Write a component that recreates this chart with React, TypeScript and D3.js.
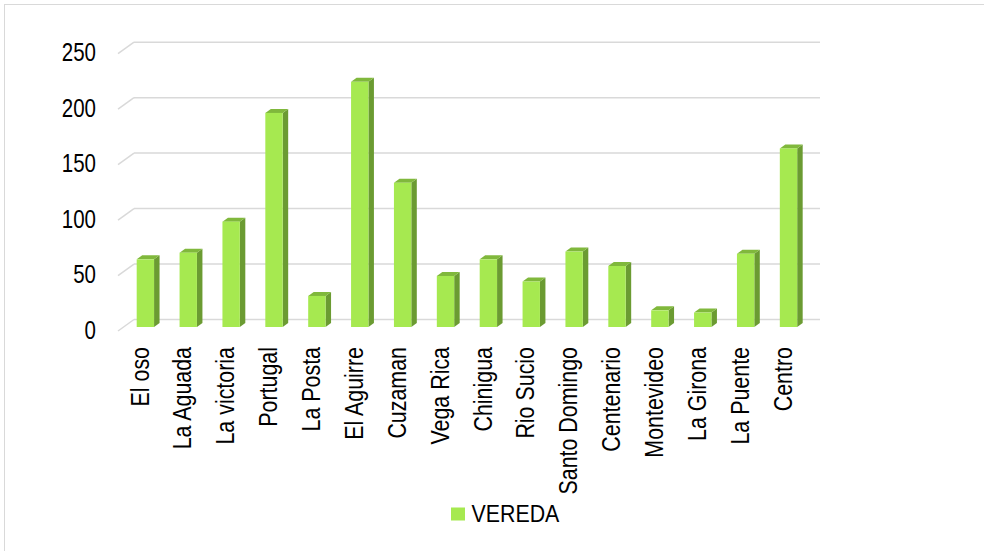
import React from "react";
import * as d3 from "d3";

const categories = [
  "El oso", "La Aguada", "La victoria", "Portugal", "La Posta", "El Aguirre",
  "Cuzaman", "Vega Rica", "Chinigua", "Rio Sucio", "Santo Domingo",
  "Centenario", "Montevideo", "La Girona", "La Puente", "Centro",
];
const values = [61, 67, 95, 193, 28, 221, 130, 46, 61, 41, 68, 55, 15, 13, 66, 161];
const yTicks = [0, 50, 100, 150, 200, 250];
const seriesName = "VEREDA";

const W = 984;
const H = 551;
const FONT = "'Liberation Sans', Arial, sans-serif";
const SX = 0.82;

export default function App() {
  const x = d3.scaleBand<string>().domain(categories).range([118, 804]).paddingInner(0);
  const y = d3.scaleLinear().domain([0, 250]).range([327, 49.7]);
  const bw = x.bandwidth();
  const barOff = bw * 0.436;
  const barW = bw * 0.405;
  const dx = 5.5;
  const dy = 4;
  const backOff = 7.5;
  const frontOff = 4;
  const depthX = 16;

  return (
    <svg width={W} height={H} style={{ position: "absolute", left: 0, top: 0 }} fontFamily={FONT}>
      <rect x={0} y={0} width={W} height={H} fill="#fff" />
      <rect x={4.5} y={4.5} width={W + 10} height={H + 10} fill="none" stroke="#d9d9d9" strokeWidth={1} />
      {yTicks.map((t) => {
        const yb = y(t) - backOff;
        return (
          <g key={t}>
            <line x1={118} y1={y(t) + frontOff} x2={118 + depthX} y2={yb} stroke="#d9d9d9" strokeWidth={1.5} />
            <line x1={118 + depthX} y1={yb} x2={820} y2={yb} stroke="#d9d9d9" strokeWidth={1.5} />
            <text
              transform={`translate(96,${y(t) + 2.5}) scale(${SX},1)`}
              textAnchor="end"
              dy="0.36em"
              fontSize={25}
              fill="#000"
            >
              {t}
            </text>
          </g>
        );
      })}
      {categories.map((c, i) => {
        const x0 = (x(c) as number) + barOff;
        const yt = y(values[i]);
        const yb = y(0);
        return (
          <g key={c}>
            <polygon
              points={`${x0 + barW},${yt} ${x0 + barW + dx},${yt - dy} ${x0 + barW + dx},${yb - dy} ${x0 + barW},${yb}`}
              fill="#6b9b32"
            />
            <polygon
              points={`${x0},${yt} ${x0 + dx},${yt - dy} ${x0 + barW + dx},${yt - dy} ${x0 + barW},${yt}`}
              fill="#80b83c"
            />
            <rect x={x0} y={yt} width={barW} height={yb - yt} fill="#a6e950" />
          </g>
        );
      })}
      {categories.map((c) => {
        const cx = (x(c) as number) + bw / 2;
        return (
          <text
            key={c}
            transform={`translate(${cx},347) rotate(-90) scale(0.84,1)`}
            textAnchor="end"
            dy="0.36em"
            fontSize={25.5}
            fill="#000"
          >
            {c}
          </text>
        );
      })}
      <rect x={451} y={507.5} width={14} height={13} fill="#a6e950" />
      <text transform={`translate(471.5,522.3) scale(0.89,1)`} fontSize={24} fill="#000">
        {seriesName}
      </text>
    </svg>
  );
}
